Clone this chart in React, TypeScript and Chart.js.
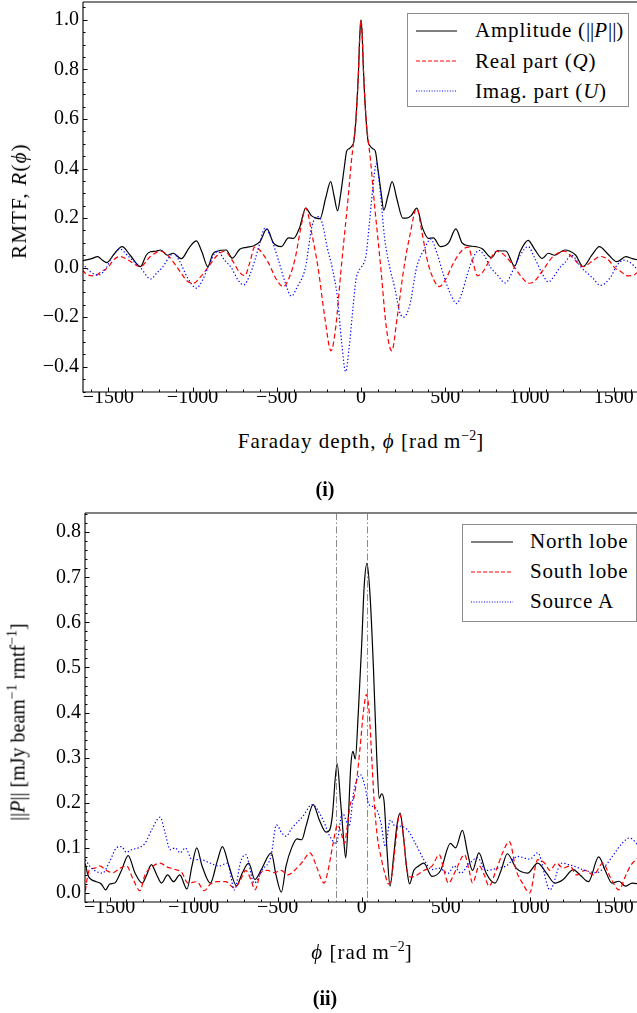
import React, { useEffect, useRef } from "react";
import { Chart, registerables } from "chart.js";
Chart.register(...registerables);

const SERIF = "'Liberation Serif', 'Times New Roman', Times, serif";

// ---------- Panel (i): RMTF ----------
const rmtfAmpPhi = [
  -1655, -1600, -1563, -1535, -1510, -1465, -1418, -1370, -1309, -1275,
  -1250, -1220, -1188, -1150, -1115, -1066, -1020, -977, -945, -909,
  -880, -850, -800, -764, -720, -680, -640, -600, -558, -520,
  -473, -430, -400, -365, -328, -295, -265, -243, -210, -180,
  -160, -139, -120, -100, -85, -70, -55, -42, -30, -15, -7,
  0,
  7, 15, 30, 42, 55, 70, 85, 100, 120, 135, 160,
  185, 212, 248, 270, 298, 331, 365, 400, 430, 471,
  520, 563, 600, 640, 680, 720, 774, 810, 860, 912,
  945, 992, 1030, 1076, 1112, 1150, 1209, 1240, 1275, 1318,
  1370, 1415, 1465, 1519, 1572, 1610, 1655,
];
const rmtfAmp = [
  0.027, 0.036, 0.044, 0.03, 0.02, 0.055, 0.085, 0.05, 0.004, 0.05,
  0.064, 0.066, 0.071, 0.05, 0.058, 0.036, 0.08, 0.108, 0.065, 0.004,
  0.055, 0.067, 0.071, 0.038, 0.074, 0.082, 0.087, 0.105, 0.156, 0.1,
  0.085, 0.12, 0.118, 0.16, 0.24, 0.21, 0.2, 0.198, 0.28, 0.347,
  0.29, 0.23, 0.3, 0.4, 0.47, 0.48, 0.49, 0.51, 0.6, 0.79, 0.94,
  1.0,
  0.94, 0.79, 0.6, 0.51, 0.49, 0.48, 0.47, 0.4, 0.3, 0.232, 0.29,
  0.347, 0.28, 0.2, 0.2, 0.21, 0.24, 0.16, 0.118, 0.12, 0.085,
  0.1, 0.156, 0.1, 0.088, 0.085, 0.076, 0.04, 0.068, 0.067, 0.006,
  0.065, 0.11, 0.075, 0.037, 0.058, 0.05, 0.071, 0.066, 0.05, 0.004,
  0.05, 0.085, 0.055, 0.024, 0.044, 0.036, 0.03,
];

const rmtfQPhi = [
  -1655, -1620, -1581, -1540, -1502, -1470, -1430, -1380, -1309, -1250,
  -1188, -1140, -1080, -1030, -994, -950, -909, -860, -810, -760,
  -720, -690, -660, -631, -600, -550, -500, -461, -420, -390,
  -360, -328, -290, -255, -215, -178, -150, -120, -100, -85,
  -70, -57, -45, -30, -15, -7, 0,
  7, 15, 30, 45, 57, 70, 85, 100, 120, 150,
  183, 215, 255, 290, 331, 360, 390, 420, 465, 500,
  550, 600, 636, 665, 692, 720, 760, 805, 860, 912,
  950, 996, 1030, 1080, 1140, 1209, 1250, 1318, 1380, 1420,
  1470, 1505, 1540, 1585, 1620, 1655,
];
const rmtfQ = [
  -0.01, -0.03, -0.033, -0.015, 0.0, 0.03, 0.045, 0.03, 0.004, 0.045,
  0.066, 0.045, -0.01, -0.055, -0.063, -0.035, 0.0, 0.045, 0.066, 0.025,
  -0.02, -0.033, 0.02, 0.083, 0.07, 0.02, -0.05, -0.077, -0.03, 0.04,
  0.15, 0.24, 0.13, 0.0, -0.2, -0.336, -0.24, -0.02, 0.12, 0.22,
  0.33, 0.43, 0.5, 0.6, 0.79, 0.94, 1.0,
  0.94, 0.79, 0.6, 0.5, 0.43, 0.33, 0.22, 0.12, -0.02, -0.24,
  -0.336, -0.2, 0.0, 0.13, 0.24, 0.15, 0.04, -0.03, -0.077, -0.05,
  0.02, 0.07, 0.083, 0.02, -0.033, -0.02, 0.025, 0.066, 0.045, 0.0,
  -0.035, -0.063, -0.055, -0.01, 0.045, 0.066, 0.045, 0.004, 0.03, 0.045,
  0.03, 0.0, -0.015, -0.033, -0.03, -0.01,
];

const rmtfUPhi = [
  -1655, -1630, -1600, -1560, -1520, -1480, -1430, -1380, -1309, -1248,
  -1210, -1180, -1140, -1115, -1080, -1030, -977, -940, -909, -870,
  -850, -810, -770, -730, -696, -660, -630, -600, -570, -540,
  -490, -450, -413, -380, -330, -290, -255, -230, -200, -171,
  -140, -115, -91, -70, -50, -30, -15, 0,
  15, 30, 50, 70, 91, 115, 140, 171, 200, 230,
  253, 290, 330, 380, 413, 450, 490, 540, 568, 600,
  630, 660, 700, 730, 770, 810, 855, 870, 909, 945,
  992, 1030, 1080, 1112, 1140, 1180, 1210, 1248, 1309, 1380,
  1420, 1480, 1520, 1560, 1600, 1630, 1655,
];
const rmtfU = [
  0.015, 0.0, -0.02, -0.03, -0.01, 0.04, 0.075, 0.045, 0.0, -0.046,
  -0.02, 0.0, 0.04, 0.058, 0.03, -0.04, -0.083, -0.05, 0.0, 0.055,
  0.065, 0.03, 0.0, -0.05, -0.07, -0.03, 0.03, 0.1, 0.159, 0.13,
  0.03, -0.06, -0.115, -0.08, 0.0, 0.17, 0.206, 0.18, 0.08, 0.0,
  -0.12, -0.3, -0.42, -0.32, -0.18, -0.05, -0.015, 0.0,
  0.015, 0.05, 0.18, 0.32, 0.42, 0.3, 0.12, 0.0, -0.08, -0.18,
  -0.2, -0.15, 0.0, 0.08, 0.115, 0.06, -0.03, -0.12, -0.145, -0.1,
  -0.03, 0.03, 0.07, 0.05, 0.0, -0.03, -0.062, -0.055, 0.0, 0.05,
  0.085, 0.04, -0.03, -0.058, -0.04, 0.0, 0.02, 0.05, 0.0, -0.045,
  -0.072, -0.04, 0.01, 0.03, 0.02, 0.0, -0.015,
];

// ---------- Panel (ii): polarised intensity ----------
const northPhi = [
  -1645, -1630, -1610, -1580, -1550, -1524, -1500, -1470, -1430, -1390,
  -1350, -1306, -1280, -1252, -1220, -1192, -1155, -1120, -1083, -1040,
  -1010, -982, -950, -901, -860, -829, -790, -745, -710, -672,
  -636, -600, -538, -510, -478, -450, -417, -385, -357, -330,
  -289, -250, -212, -190, -175, -146, -125, -105, -95, -80,
  -65, -52, -38, -20, 0, 15, 32, 50, 70, 90,
  105, 118, 133, 150, 169, 190, 210, 229, 250, 270,
  285, 310, 340, 370, 418, 470, 528, 559, 600, 630,
  660, 698, 740, 794, 830, 867, 920, 988, 1048, 1100,
  1150, 1200, 1260, 1300, 1350, 1411, 1450, 1490, 1532, 1570,
  1610, 1655,
];
const north = [
  0.065, 0.04, 0.03, 0.025, 0.02, 0.007, 0.02, 0.022, 0.05, 0.083,
  0.045, 0.022, 0.04, 0.063, 0.04, 0.022, 0.04, 0.025, 0.04, 0.009,
  0.06, 0.1, 0.06, 0.022, 0.07, 0.103, 0.06, 0.016, 0.045, 0.066,
  0.03, 0.05, 0.089, 0.04, 0.002, 0.06, 0.1, 0.12, 0.118, 0.15,
  0.196, 0.16, 0.135, 0.14, 0.17, 0.287, 0.2, 0.11, 0.078, 0.16,
  0.28, 0.314, 0.297, 0.4, 0.55, 0.68, 0.731, 0.66, 0.5, 0.3,
  0.21, 0.22, 0.205, 0.1, 0.015, 0.08, 0.15, 0.177, 0.12, 0.05,
  0.02, 0.05, 0.06, 0.066, 0.037, 0.05, 0.11, 0.1, 0.139, 0.09,
  0.05, 0.089, 0.045, 0.022, 0.05, 0.087, 0.055, 0.044, 0.066, 0.044,
  0.022, 0.03, 0.052, 0.04, 0.025, 0.08, 0.05, 0.022, 0.026, 0.015,
  0.022, 0.02,
];

const southPhi = [
  -1645, -1635, -1620, -1590, -1560, -1520, -1480, -1440, -1400, -1360,
  -1320, -1290, -1240, -1200, -1160, -1110, -1070, -1035, -980, -938,
  -900, -860, -810, -757, -720, -690, -660, -635, -600, -560,
  -520, -480, -440, -400, -350, -308, -270, -240, -224, -200,
  -170, -143, -120, -102, -85, -66, -50, -30, -10, 10,
  28, 45, 60, 75, 95, 115, 140, 160, 180, 205,
  225, 245, 270, 295, 330, 370, 420, 462, 490, 516,
  560, 612, 640, 660, 700, 730, 758, 800, 840, 879,
  920, 960, 1000, 1048, 1090, 1120, 1160, 1200, 1240, 1280,
  1330, 1380, 1436, 1480, 1532, 1570, 1600, 1655,
];
const south = [
  0.005, 0.03, 0.052, 0.055, 0.06, 0.05, 0.045, 0.055, 0.06, 0.03,
  0.005, 0.04, 0.06, 0.066, 0.058, 0.052, 0.045, 0.022, 0.025, 0.005,
  0.02, 0.025, 0.025, 0.011, 0.03, 0.05, 0.03, 0.007, 0.045, 0.05,
  0.045, 0.05, 0.04, 0.05, 0.07, 0.089, 0.06, 0.03, 0.022, 0.05,
  0.11, 0.151, 0.13, 0.11, 0.15, 0.2, 0.207, 0.25, 0.32, 0.4,
  0.44, 0.4, 0.3, 0.2, 0.12, 0.08, 0.04, 0.02, 0.04, 0.12,
  0.175, 0.14, 0.05, 0.035, 0.04, 0.05, 0.06, 0.085, 0.05, 0.022,
  0.05, 0.085, 0.05, 0.022, 0.06, 0.04, 0.015, 0.05, 0.09, 0.114,
  0.05, 0.02, 0.0, 0.074, 0.066, 0.05, 0.066, 0.055, 0.06, 0.04,
  0.05, 0.04, 0.066, 0.035, 0.007, 0.037, 0.06, 0.081,
];

const sourceAPhi = [
  -1645, -1620, -1590, -1543, -1500, -1460, -1430, -1400, -1370, -1330,
  -1290, -1250, -1200, -1170, -1140, -1110, -1080, -1050, -1010, -960,
  -900, -850, -800, -757, -720, -690, -640, -590, -540, -507,
  -475, -450, -415, -350, -296, -230, -190, -151, -115, -75,
  -45, -6, 20, 43, 80, 115, 140, 171, 200, 230,
  273, 320, 370, 418, 460, 515, 550, 590, 640, 690,
  740, 810, 860, 930, 1000, 1048, 1121, 1190, 1260, 1330,
  1400, 1450, 1500, 1550, 1594, 1655,
];
const sourceA = [
  0.074, 0.06, 0.05, 0.044, 0.07, 0.1, 0.103, 0.09, 0.096, 0.1,
  0.11, 0.14, 0.168, 0.133, 0.096, 0.1, 0.089, 0.1, 0.074, 0.074,
  0.066, 0.06, 0.066, 0.007, 0.07, 0.085, 0.022, 0.052, 0.081, 0.151,
  0.133, 0.126, 0.144, 0.17, 0.196, 0.162, 0.126, 0.11, 0.177, 0.148,
  0.229, 0.262, 0.236, 0.196, 0.19, 0.155, 0.103, 0.162, 0.148, 0.148,
  0.14, 0.11, 0.074, 0.052, 0.055, 0.044, 0.06, 0.044, 0.065, 0.078,
  0.05, 0.055, 0.06, 0.081, 0.075, 0.089, 0.007, 0.066, 0.06, 0.05,
  0.045, 0.06, 0.085, 0.11, 0.122, 0.103,
];

// Faraday depths marked by the dash-dotted lines in panel (ii)
const markerPhi = [-152, 32];

// tick values
const phiTicks = [-1500, -1000, -500, 0, 500, 1000, 1500];
const rmtfTicks = [-0.4, -0.2, 0, 0.2, 0.4, 0.6, 0.8, 1.0];
const polTicks = [0, 0.1, 0.2, 0.3, 0.4, 0.5, 0.6, 0.7, 0.8];

const pts = (phi: number[], vals: number[]) => phi.map((p, i) => ({ x: p, y: vals[i] }));
const fmtNum = (v: number, d: number) => (v < 0 ? "\u2212" : "") + Math.abs(v).toFixed(d);

const framePlugin = {
  id: "mmaFrame",
  beforeDatasetsDraw(chart: any, _a: any, opts: any) {
    const { ctx, chartArea: a, scales } = chart;
    if (opts.markers) {
      ctx.save();
      ctx.strokeStyle = "#8a8a8a";
      ctx.lineWidth = 1;
      ctx.setLineDash([7, 2.5, 1.5, 2.5]);
      for (const m of opts.markers as number[]) {
        const px = Math.round(scales.x.getPixelForValue(m)) + 0.5;
        ctx.beginPath();
        ctx.moveTo(px, a.top);
        ctx.lineTo(px, a.bottom);
        ctx.stroke();
      }
      ctx.restore();
    }
  },
  afterDatasetsDraw(chart: any, _a: any, opts: any) {
    const { ctx, chartArea: a, scales } = chart;
    const x = scales.x, y = scales.y;
    ctx.save();
    ctx.setLineDash([]);
    ctx.strokeStyle = "#808080";
    ctx.lineWidth = 2;
    ctx.beginPath();
    ctx.moveTo(a.left, a.top);
    ctx.lineTo(a.right, a.top);
    ctx.lineTo(a.right, a.bottom);
    ctx.stroke();
    ctx.strokeStyle = "#000";
    ctx.lineWidth = 1.1;
    ctx.beginPath();
    ctx.moveTo(a.left, a.top);
    ctx.lineTo(a.left, a.bottom);
    ctx.lineTo(a.right, a.bottom);
    ctx.stroke();
    ctx.lineWidth = 1;
    ctx.beginPath();
    for (let v = Math.ceil(x.min / opts.xMinor) * opts.xMinor; v <= x.max; v += opts.xMinor) {
      const isMajor = Math.abs(v / opts.xMajor - Math.round(v / opts.xMajor)) < 1e-6;
      const px = Math.round(x.getPixelForValue(v)) + 0.5;
      ctx.moveTo(px, a.bottom);
      ctx.lineTo(px, a.bottom - (isMajor ? 4.5 : 2.5));
    }
    const n0 = Math.ceil(y.min / opts.yMinor - 1e-6);
    const n1 = Math.floor(y.max / opts.yMinor + 1e-6);
    for (let n = n0; n <= n1; n++) {
      const v = n * opts.yMinor;
      const isMajor = Math.abs(v / opts.yMajor - Math.round(v / opts.yMajor)) < 1e-6;
      const py = Math.round(y.getPixelForValue(v)) + 0.5;
      ctx.moveTo(a.left, py);
      ctx.lineTo(a.left + (isMajor ? 4.5 : 2.5), py);
    }
    ctx.stroke();
    ctx.restore();
  },
};

function lineSet(data: any[], color: string, dash: number[], order: number) {
  return {
    data,
    borderColor: color,
    borderWidth: 1.2,
    borderDash: dash,
    pointRadius: 0,
    fill: false,
    order,
    cubicInterpolationMode: "monotone",
  };
}

const zeroPad = (s: any) => {
  s.paddingTop = 0;
  s.paddingBottom = 0;
  s.paddingLeft = 0;
  s.paddingRight = 0;
};

function makeConfig(p: {
  sets: any[];
  xMin: number; xMax: number; yMin: number; yMax: number;
  yTicks: number[]; yMajor: number; yMinor: number;
  padTop: number; yWidth: number; xHeight: number; markers?: number[];
}) {
  const tickFont = { family: SERIF, size: 20 };
  return {
    type: "line",
    data: { datasets: p.sets },
    plugins: [framePlugin],
    options: {
      animation: false,
      responsive: false,
      maintainAspectRatio: false,
      events: [],
      layout: { autoPadding: false, padding: { top: p.padTop, left: 0, right: 0, bottom: 0 } },
      plugins: {
        legend: { display: false },
        tooltip: { enabled: false },
        mmaFrame: { markers: p.markers, xMajor: 500, xMinor: 100, yMajor: p.yMajor, yMinor: p.yMinor },
      },
      scales: {
        x: {
          type: "linear",
          min: p.xMin,
          max: p.xMax,
          grid: { display: false, drawTicks: false },
          border: { display: false },
          ticks: { font: tickFont, color: "#000", padding: -6, maxRotation: 0, callback: (v: number) => fmtNum(v, 0) },
          afterBuildTicks: (s: any) => { s.ticks = phiTicks.map((v) => ({ value: v })); },
          afterFit: (s: any) => { s.height = p.xHeight; zeroPad(s); },
        },
        y: {
          type: "linear",
          min: p.yMin,
          max: p.yMax,
          grid: { display: false, drawTicks: false },
          border: { display: false },
          ticks: { font: tickFont, color: "#000", padding: 4, callback: (v: number) => fmtNum(v, 1) },
          afterBuildTicks: (s: any) => { s.ticks = p.yTicks.map((v) => ({ value: v })); },
          afterFit: (s: any) => { s.width = p.yWidth; zeroPad(s); },
        },
      },
    },
  };
}

function ChartBox({ config, top, width, height }: any) {
  const ref = useRef<HTMLCanvasElement>(null);
  useEffect(() => {
    const chart = new Chart(ref.current as HTMLCanvasElement, config);
    return () => chart.destroy();
  }, []);
  return (
    <canvas
      ref={ref}
      width={width}
      height={height}
      style={{ position: "absolute", left: 0, top, width, height }}
    />
  );
}

const txt: React.CSSProperties = {
  position: "absolute",
  fontFamily: SERIF,
  fontSize: 20,
  lineHeight: "20px",
  whiteSpace: "nowrap",
  color: "#000",
};
const Sup = ({ children }: any) => (
  <span style={{ fontSize: 14, position: "relative", top: -8, letterSpacing: 0 }}>{children}</span>
);
const Bars = ({ children }: any) => (
  <>
    <span style={{ letterSpacing: 0 }}>||</span>
    {children}
    <span style={{ letterSpacing: 0 }}>||</span>
  </>
);

function Legend({ left, top, width, height, rows }: any) {
  return (
    <div
      style={{
        position: "absolute",
        left,
        top,
        width,
        height,
        boxSizing: "border-box",
        border: "1px solid #8c8c8c",
        background: "#fff",
      }}
    >
      {rows.map((r: any, i: number) => (
        <React.Fragment key={i}>
          <svg style={{ position: "absolute", left: r.sx, top: r.cy - 3 }} width={r.sw} height={6}>
            <line x1={0} y1={3} x2={r.sw} y2={3} stroke={r.color} strokeWidth={1.2} strokeDasharray={r.dash} />
          </svg>
          <div style={{ ...txt, fontSize: 21, left: r.tx, top: r.cy - 10.5, letterSpacing: 0.8 }}>{r.label}</div>
        </React.Fragment>
      ))}
    </div>
  );
}

export default function App() {
  const topConfig = makeConfig({
    sets: [
      lineSet(pts(rmtfAmpPhi, rmtfAmp), "#000000", [], 3),
      lineSet(pts(rmtfQPhi, rmtfQ), "#ff0000", [5, 3], 2),
      lineSet(pts(rmtfUPhi, rmtfU), "#0000ff", [1.3, 2.2], 1),
    ],
    xMin: -1650, xMax: 1656, yMin: -0.502, yMax: 1.072,
    yTicks: rmtfTicks, yMajor: 0.2, yMinor: 0.05,
    padTop: 2, yWidth: 83, xHeight: 33,
  });
  const botConfig = makeConfig({
    sets: [
      lineSet(pts(northPhi, north), "#000000", [], 3),
      lineSet(pts(southPhi, south), "#ff0000", [5, 3], 2),
      lineSet(pts(sourceAPhi, sourceA), "#0000ff", [1.3, 2.2], 1),
    ],
    xMin: -1647, xMax: 1657, yMin: -0.02, yMax: 0.8426,
    yTicks: polTicks, yMajor: 0.1, yMinor: 0.02,
    padTop: 13, yWidth: 85, xHeight: 38, markers: markerPhi,
  });

  return (
    <div style={{ position: "absolute", left: 0, top: 0, width: 637, height: 1013, overflow: "hidden", background: "#fff" }}>
      <ChartBox config={topConfig} top={0} width={640} height={425} />
      <ChartBox config={botConfig} top={500} width={640} height={440} />

      {/* panel (i) texts */}
      <div style={{ ...txt, fontSize: 21, letterSpacing: 1.2, left: 18.6, top: 201, transform: "translate(-50%,-50%) rotate(-90deg)" }}>
        RMTF, <i>R</i>(<i>ϕ</i>)
      </div>
      <div style={{ ...txt, fontSize: 21, letterSpacing: 1, left: 361, top: 431, transform: "translateX(-50%)" }}>
        Faraday depth, <i>ϕ</i> [rad{"\u2009"}m<Sup>−2</Sup>]
      </div>
      <div style={{ ...txt, left: 325, top: 479, transform: "translateX(-50%)", fontWeight: "bold" }}>(i)</div>
      <Legend
        left={407}
        top={13}
        width={222}
        height={94}
        rows={[
          { cy: 16.7, sx: 8, sw: 41, tx: 67, color: "#000", dash: "", label: <>Amplitude (<Bars><i>P</i></Bars>)</> },
          { cy: 47, sx: 8, sw: 41, tx: 67, color: "#ff0000", dash: "4 2", label: <>Real part (<i>Q</i>)</> },
          { cy: 77.2, sx: 8, sw: 41, tx: 67, color: "#0000ff", dash: "1 1.6", label: <>Imag. part (<i>U</i>)</> },
        ]}
      />

      {/* panel (ii) texts */}
      <div style={{ ...txt, left: 18.6, top: 722, transform: "translate(-50%,-50%) rotate(-90deg)" }}>
        <Bars><i>P</i></Bars> [mJy beam<Sup>−1</Sup> rmtf<Sup>−1</Sup>]
      </div>
      <div style={{ ...txt, fontSize: 21, letterSpacing: 1, left: 362, top: 942, transform: "translateX(-50%)" }}>
        <i>ϕ</i> [rad{"\u2009"}m<Sup>−2</Sup>]
      </div>
      <div style={{ ...txt, left: 325, top: 987.5, transform: "translateX(-50%)", fontWeight: "bold" }}>(ii)</div>
      <Legend
        left={461.5}
        top={524}
        width={175}
        height={98}
        rows={[
          { cy: 16.7, sx: 8.5, sw: 42, tx: 67.5, color: "#000", dash: "", label: <>North lobe</> },
          { cy: 46.7, sx: 8.5, sw: 42, tx: 67.5, color: "#ff0000", dash: "4 2", label: <>South lobe</> },
          { cy: 76.7, sx: 8.5, sw: 42, tx: 67.5, color: "#0000ff", dash: "1 1.6", label: <>Source A</> },
        ]}
      />
    </div>
  );
}
